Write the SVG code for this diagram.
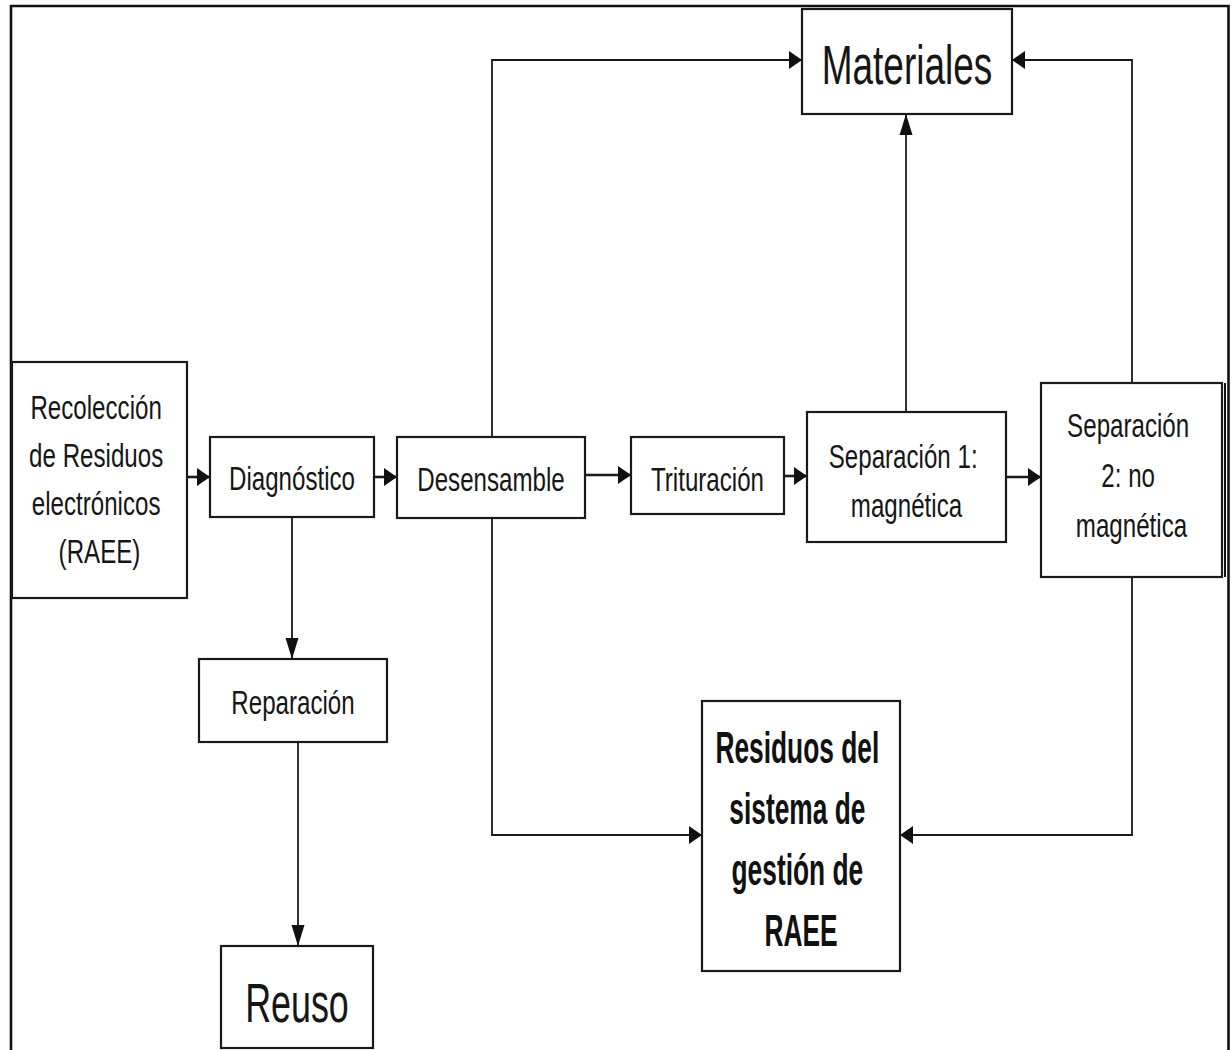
<svg xmlns="http://www.w3.org/2000/svg" width="1232" height="1050" viewBox="0 0 1232 1050">
  <style>
    .box { fill: #ffffff; stroke: #1a1a1a; stroke-width: 2.2; }
    .frame { fill: none; stroke: #111111; stroke-width: 2.6; }
    .wire { fill: none; stroke: #1a1a1a; stroke-width: 1.8; }
    .wire.short { stroke-width: 2.6; }
    text { font-family: "Liberation Sans", Arial, sans-serif; fill: #161616; text-anchor: middle; }
    .lbl { font-size: 34px; }
    .big { font-size: 56px; }
    .bold { font-size: 45px; font-weight: bold; fill: #111111; }
  </style>
  <defs>
    <!-- arrowheads: horizontal runs get a taller head, vertical runs a longer one -->
    <marker id="ah" markerUnits="userSpaceOnUse" markerWidth="14" markerHeight="20" refX="13" refY="9" orient="auto" overflow="visible">
      <path d="M0,0 L13,9 L0,18 Z" fill="#111111"/>
    </marker>
    <marker id="av" markerUnits="userSpaceOnUse" markerWidth="22" markerHeight="14" refX="21" refY="6.5" orient="auto" overflow="visible">
      <path d="M0,0 L21,6.5 L0,13 Z" fill="#111111"/>
    </marker>
  </defs>

  <rect x="0" y="0" width="1232" height="1050" fill="#ffffff"/>

  <!-- outer frame -->
  <path class="frame" d="M11,1050 V6 H1228.5 V1050"/>
  <line x1="1225" y1="383" x2="1225" y2="577" stroke="#111111" stroke-width="2"/>

  <!-- connectors -->
  <g id="connectors">
    <path class="wire short" d="M187,477 H210" marker-end="url(#ah)"/>
    <path class="wire short" d="M374,477 H397" marker-end="url(#ah)"/>
    <path class="wire short" d="M585,475 H631" marker-end="url(#ah)"/>
    <path class="wire short" d="M784,476 H807" marker-end="url(#ah)"/>
    <path class="wire short" d="M1006,477 H1041" marker-end="url(#ah)"/>
    <path class="wire" d="M492,437 V60 H802" marker-end="url(#ah)"/>
    <path class="wire" d="M906,412 V114" marker-end="url(#av)"/>
    <path class="wire" d="M1132,383 V60 H1012" marker-end="url(#ah)"/>
    <path class="wire" d="M292,517 V659" marker-end="url(#av)"/>
    <path class="wire" d="M298,742 V946" marker-end="url(#av)"/>
    <path class="wire" d="M492,518 V835 H702" marker-end="url(#ah)"/>
    <path class="wire" d="M1132,577 V835 H900" marker-end="url(#ah)"/>
  </g>

  <!-- nodes -->
  <g id="recoleccion">
    <rect class="box" x="12" y="362" width="175" height="236"/>
    <text class="lbl" transform="translate(99.5,419) scale(0.71,1)">
      <tspan x="0" y="0">Recolección</tspan>
      <tspan x="0" y="48">de Residuos</tspan>
      <tspan x="0" y="96">electrónicos</tspan>
      <tspan x="0" y="144">(RAEE)</tspan>
    </text>
  </g>

  <g id="diagnostico">
    <rect class="box" x="210" y="437" width="164" height="80"/>
    <text class="lbl" transform="translate(292,490) scale(0.71,1)">Diagnóstico</text>
  </g>

  <g id="desensamble">
    <rect class="box" x="397" y="437" width="188" height="81"/>
    <text class="lbl" transform="translate(491,491) scale(0.71,1)">Desensamble</text>
  </g>

  <g id="trituracion">
    <rect class="box" x="631" y="437" width="153" height="77"/>
    <text class="lbl" transform="translate(707.5,491) scale(0.71,1)">Trituración</text>
  </g>

  <g id="separacion1">
    <rect class="box" x="807" y="412" width="199" height="130"/>
    <text class="lbl" transform="translate(906.5,468) scale(0.71,1)">
      <tspan x="0" y="0">Separación 1:</tspan>
      <tspan x="0" y="49">magnética</tspan>
    </text>
  </g>

  <g id="separacion2">
    <rect class="box" x="1041" y="383" width="181" height="194"/>
    <text class="lbl" transform="translate(1131.5,437) scale(0.71,1)">
      <tspan x="0" y="0">Separación</tspan>
      <tspan x="0" y="50">2: no</tspan>
      <tspan x="0" y="100">magnética</tspan>
    </text>
  </g>

  <g id="materiales">
    <rect class="box" x="802" y="9" width="210" height="105"/>
    <text class="big" transform="translate(907,84) scale(0.66,1)">Materiales</text>
  </g>

  <g id="reparacion">
    <rect class="box" x="199" y="659" width="188" height="83"/>
    <text class="lbl" transform="translate(293,714) scale(0.71,1)">Reparación</text>
  </g>

  <g id="reuso">
    <rect class="box" x="221" y="946" width="152" height="102"/>
    <text class="big" transform="translate(297,1022) scale(0.64,1)">Reuso</text>
  </g>

  <g id="residuos">
    <rect class="box" x="702" y="701" width="198" height="270"/>
    <text class="bold" transform="translate(801,763) scale(0.585,1)">
      <tspan x="0" y="0">Residuos del</tspan>
      <tspan x="0" y="61">sistema de</tspan>
      <tspan x="0" y="122">gestión de</tspan>
      <tspan x="0" y="183">RAEE</tspan>
    </text>
  </g>
</svg>
